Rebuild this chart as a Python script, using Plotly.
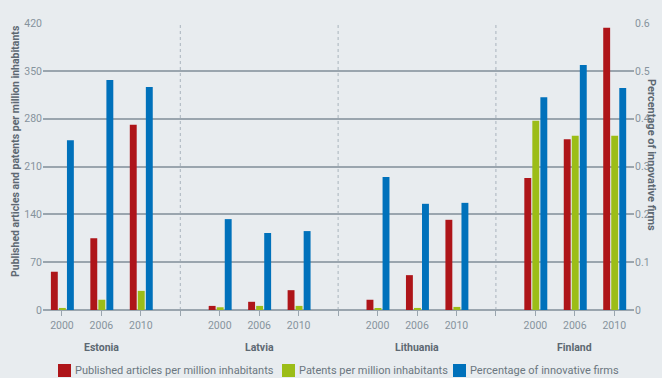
import plotly.graph_objects as go

countries = ["Estonia", "Latvia", "Lithuania", "Finland"]
years = ["2000", "2006", "2010"]
series_names = ["Published articles per million inhabitants",
                "Patents per million inhabitants",
                "Percentage of innovative firms"]

articles = [56, 105, 271, 6, 12, 29, 15, 51, 132, 193, 250, 413]
patents = [3, 15, 28, 4, 6, 6, 1.5, 3, 4.5, 277, 255, 255]
innovative = [0.355, 0.481, 0.466, 0.19, 0.161, 0.165, 0.278, 0.222, 0.224, 0.445, 0.512, 0.464]

left_ticks = [0, 70, 140, 210, 280, 350, 420]
right_ticks = [0, 0.1, 0.2, 0.3, 0.4, 0.5, 0.6]
right_labels = ["0", "0.1", "0.2", "0.3", "0.4", "0.5", "0.6"]

RED = "#ae1519"
GREEN = "#9cbd17"
BLUE = "#0071bb"
COLORS = [RED, GREEN, BLUE]
BG = "#e8ecef"
GRID = "#9aa5ae"
TXT = "#86939d"
TITLE = "#5d6872"
FONT = "Roboto, Arial, sans-serif"

W, H = 662, 378
ML, MR, MT, MB = 43, 28, 23, 68
PW, PH = W - ML - MR, H - MT - MB

slot = len(years) + 1
xpos = [g * slot + i for g in range(len(countries)) for i in range(len(years))]
seps = [g * slot + len(years) for g in range(len(countries) - 1)]
centers = [g * slot + (len(years) - 1) / 2 for g in range(len(countries))]

fig = go.Figure()
bw = 0.175
fig.add_trace(go.Bar(x=xpos, y=articles, name=series_names[0],
                     marker=dict(color=RED, line_width=0), width=bw, offset=-0.28, yaxis="y"))
fig.add_trace(go.Bar(x=xpos, y=patents, name=series_names[1],
                     marker=dict(color=GREEN, line_width=0), width=bw, offset=-0.077, yaxis="y"))
fig.add_trace(go.Bar(x=xpos, y=innovative, name=series_names[2],
                     marker=dict(color=BLUE, line_width=0), width=bw, offset=0.127, yaxis="y2"))

shapes = []
for s in seps:
    shapes.append(dict(type="line", xref="x", yref="paper", x0=s, x1=s, y0=0, y1=1,
                       line=dict(color="#a9b4bd", width=1, dash="dot"), layer="below"))

annotations = []
for c, name in zip(centers, countries):
    annotations.append(dict(x=c, xref="x", y=0, yref="paper", yshift=-37, yanchor="middle",
                            text="<b>" + name + "</b>",
                            showarrow=False, font=dict(family=FONT, size=10.5, color=TITLE)))
annotations.append(dict(x=-28 / PW, xref="paper", y=0.554, yref="paper", textangle=-90,
                        xanchor="center", yanchor="middle",
                        text="<b>Published articles and patents per million inhabitants</b>",
                        showarrow=False, font=dict(family=FONT, size=10.5, color=TITLE)))
annotations.append(dict(x=1 + 18 / PW, xref="paper", y=0.54, yref="paper", textangle=90,
                        xanchor="center", yanchor="middle",
                        text="<b>Percentage of innovative firms</b>",
                        showarrow=False, font=dict(family=FONT, size=11, color=TITLE)))

# legend drawn as keys below the plot (pixel positions converted to paper coords)
leg_sq_left = [58, 282, 453]
sq = 13
leg_top = 364
for name, col, lx in zip(series_names, COLORS, leg_sq_left):
    x0 = (lx - ML) / PW
    x1 = (lx + sq - ML) / PW
    y0 = (H - MB - (leg_top + sq)) / PH
    y1 = (H - MB - leg_top) / PH
    shapes.append(dict(type="rect", xref="paper", yref="paper", x0=x0, x1=x1, y0=y0, y1=y1,
                       fillcolor=col, line_width=0))
    annotations.append(dict(x=x1, xref="paper", xshift=2, xanchor="left",
                            y=(H - MB - (leg_top + sq / 2)) / PH, yref="paper", yanchor="middle",
                            text=name, showarrow=False,
                            font=dict(family=FONT, size=11, color="#6b7780")))

fig.update_layout(
    width=W, height=H,
    margin=dict(l=ML, r=MR, t=MT, b=MB, autoexpand=False),
    paper_bgcolor=BG, plot_bgcolor=BG,
    barmode="overlay",
    showlegend=False,
    xaxis=dict(range=[-0.48, 14.5], tickmode="array",
               tickvals=xpos + seps, ticktext=[years[i % 3] for i in range(len(xpos))] + [""] * len(seps),
               ticks="outside", ticklen=5, tickcolor=GRID, tickwidth=1,
               tickfont=dict(family=FONT, size=10.5, color=TXT),
               showgrid=False, zeroline=False, showline=False, fixedrange=True, automargin=False),
    yaxis=dict(range=[0, 420], tickmode="array", tickvals=left_ticks,
               tickfont=dict(family=FONT, size=10.5, color=TXT), automargin=False,
               showgrid=True, gridcolor=GRID, gridwidth=1.6, zeroline=True, zerolinecolor=GRID,
               zerolinewidth=1.6, ticks="", showline=False),
    yaxis2=dict(range=[0, 0.6], tickmode="array", tickvals=right_ticks, ticktext=right_labels,
                overlaying="y", side="right", showgrid=False, zeroline=False, automargin=False,
                tickfont=dict(family=FONT, size=10.5, color=TXT), ticks="", showline=False),
    shapes=shapes,
    annotations=annotations,
)

fig.write_html("out.html", config={"displayModeBar": False},
               post_script="document.body.style.margin='0px';")
